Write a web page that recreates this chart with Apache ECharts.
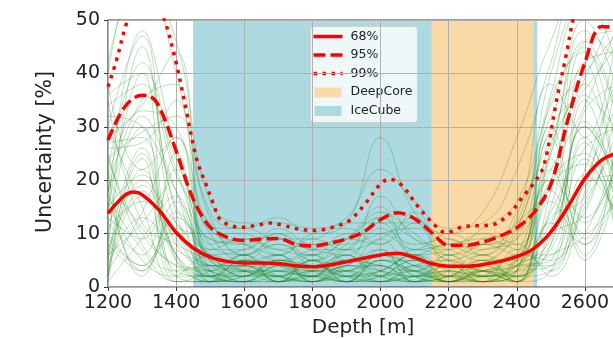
<!DOCTYPE html>
<html>
<head>
<meta charset="utf-8">
<script src="https://cdn.jsdelivr.net/npm/echarts@6/dist/echarts.min.js"></script>
<style>
  html, body { margin: 0; padding: 0; background: #ffffff; }
  #chart { width: 613px; height: 339px; }
</style>
</head>
<body>
<div id="chart"></div>
<script>
// Depth nodes shared by every ensemble run (m)
const depthNodes = [1200, 1300, 1400, 1500, 1600, 1700, 1800, 1900, 2000, 2100, 2200, 2300, 2400, 2500, 2600, 2700];

// Individual uncertainty curves (%), one row per run, sampled at depthNodes
const ensembleRuns = [
  [3, 22, 6, 2, 5, 1, 3, 6, 2, 4, 1, 3, 5, 12, 30, 18],
  [10, 4, 14, 3, 1, 4, 2, 1, 5, 3, 6, 2, 1, 18, 8, 26],
  [18, 30, 2, 6, 3, 2, 5, 3, 1, 2, 4, 1, 7, 3, 22, 40],
  [6, 12, 20, 1, 4, 6, 1, 4, 7, 1, 2, 5, 2, 8, 35, 12],
  [25, 8, 3, 4, 2, 3, 4, 2, 3, 6, 1, 3, 4, 22, 5, 20],
  [2, 17, 10, 2, 6, 1, 2, 5, 4, 2, 3, 2, 6, 5, 15, 30],
  [14, 40, 5, 3, 1, 5, 3, 1, 6, 4, 2, 6, 1, 10, 28, 6],
  [8, 3, 16, 5, 3, 2, 1, 3, 2, 7, 5, 1, 3, 30, 12, 24],
  [30, 15, 1, 1, 2, 4, 6, 2, 1, 3, 1, 4, 8, 2, 18, 45],
  [5, 26, 8, 4, 5, 3, 2, 7, 3, 1, 3, 2, 4, 15, 42, 16],
  [12, 6, 25, 2, 1, 2, 3, 4, 9, 2, 1, 3, 2, 6, 10, 28],
  [20, 11, 4, 3, 4, 1, 5, 1, 2, 5, 2, 1, 5, 20, 25, 9],
  [1, 20, 12, 6, 2, 5, 1, 3, 4, 1, 6, 2, 3, 4, 20, 35],
  [16, 5, 2, 2, 3, 2, 4, 2, 5, 3, 1, 5, 1, 12, 8, 22],
  [9, 32, 18, 1, 5, 4, 2, 6, 1, 2, 3, 1, 6, 25, 38, 14],
  [4, 13, 7, 4, 1, 1, 3, 1, 3, 6, 2, 3, 2, 3, 16, 27],
  [22, 2, 11, 3, 2, 6, 1, 4, 2, 1, 4, 2, 4, 9, 30, 19],
  [7, 18, 3, 2, 4, 2, 5, 2, 6, 4, 1, 4, 1, 16, 6, 33],
  [13, 9, 22, 5, 3, 3, 2, 3, 1, 2, 2, 1, 3, 7, 24, 11],
  [2, 25, 6, 1, 1, 4, 3, 5, 4, 3, 5, 3, 5, 20, 13, 25],
  [17, 7, 1, 3, 6, 1, 2, 1, 2, 5, 1, 2, 2, 11, 33, 38],
  [11, 16, 9, 2, 2, 5, 4, 3, 7, 1, 3, 6, 4, 4, 19, 21],
  [6, 45, 14, 4, 4, 2, 1, 4, 3, 2, 2, 1, 3, 28, 10, 17],
  [24, 10, 4, 1, 3, 3, 3, 2, 1, 4, 4, 3, 1, 14, 26, 30],
  [3, 14, 28, 3, 1, 1, 6, 1, 5, 3, 1, 2, 6, 6, 21, 13],
  [15, 21, 5, 2, 5, 4, 2, 6, 2, 1, 2, 4, 2, 18, 45, 23],
  [9, 4, 13, 6, 2, 2, 1, 2, 3, 6, 3, 1, 4, 10, 14, 36],
  [27, 28, 2, 1, 3, 6, 3, 3, 6, 2, 1, 3, 1, 3, 27, 15],
  [1, 9, 17, 4, 4, 1, 5, 1, 1, 4, 5, 2, 3, 24, 9, 26],
  [12, 19, 6, 2, 1, 3, 2, 4, 4, 1, 2, 5, 5, 8, 31, 20],
  [19, 3, 10, 3, 6, 2, 1, 2, 2, 3, 1, 1, 2, 13, 17, 42],
  [5, 24, 1, 1, 2, 5, 4, 5, 3, 2, 4, 3, 1, 19, 23, 8],
  [35, 12, 8, 5, 3, 1, 2, 1, 5, 5, 2, 2, 4, 5, 36, 29],
  [28, 36, 24, 8, 6, 9, 4, 7, 12, 6, 8, 7, 11, 32, 40, 48],
  [20, 33, 30, 11, 8, 5, 7, 9, 8, 12, 4, 8, 6, 26, 46, 32],
  [32, 30, 18, 7, 9, 7, 8, 5, 13, 9, 7, 5, 10, 22, 34, 50],
  [14, 48, 26, 10, 5, 8, 6, 10, 10, 7, 8, 9, 7, 35, 44, 30],
  [26, 27, 35, 6, 7, 10, 5, 8, 14, 10, 6, 8, 12, 20, 48, 42],
  [34, 38, 15, 9, 8, 6, 9, 7, 9, 13, 5, 7, 9, 30, 37, 46],
  [22, 42, 21, 12, 6, 9, 7, 6, 11, 8, 9, 6, 13, 38, 28, 52],
  [38, 22, 28, 8, 9, 7, 6, 9, 15, 6, 7, 10, 8, 25, 50, 36],
  [18, 35, 38, 7, 7, 11, 8, 8, 10, 11, 8, 6, 14, 28, 42, 44],
  [30, 47, 12, 10, 10, 6, 10, 11, 8, 14, 6, 9, 11, 40, 54, 40],
  [24, 29, 32, 13, 6, 8, 5, 9, 13, 7, 10, 8, 9, 27, 39, 54],
  [36, 40, 22, 9, 8, 10, 7, 7, 17, 9, 7, 11, 16, 34, 46, 48],
  [28, 34, 44, 11, 11, 9, 9, 12, 12, 12, 9, 8, 12, 36, 52, 50],
  [42, 58, 46, 16, 12, 12, 11, 13, 22, 16, 11, 12, 22, 42, 60, 58],
  [40, 62, 40, 14, 11, 13, 10, 12, 28, 14, 10, 14, 28, 46, 58, 56]
];

// Percentile envelopes: [depth (m), uncertainty (%)]
const band68 = [
  [1200, 13.8], [1250, 17.2], [1275, 17.8], [1300, 17.3], [1350, 14.4], [1400, 10.2],
  [1450, 7.3], [1500, 5.6], [1550, 4.8], [1600, 4.5], [1650, 4.5], [1700, 4.4],
  [1750, 4.0], [1800, 3.8], [1850, 4.1], [1900, 4.7], [1950, 5.4], [2000, 6.0],
  [2050, 6.3], [2100, 5.5], [2150, 4.4], [2200, 3.9], [2250, 3.9], [2300, 4.2],
  [2350, 4.8], [2400, 5.7], [2450, 7.2], [2500, 10.3], [2550, 15.0], [2600, 20.3],
  [2650, 23.8], [2700, 25.2]
];
const band95 = [
  [1200, 27.5], [1250, 33.8], [1300, 35.9], [1320, 35.8], [1350, 33.8], [1400, 25.5],
  [1450, 16.5], [1500, 11.2], [1550, 9.3], [1600, 8.7], [1650, 9.0], [1700, 9.1],
  [1750, 8.0], [1800, 7.7], [1850, 8.2], [1900, 9.0], [1950, 10.3], [2000, 12.6],
  [2050, 13.9], [2100, 12.8], [2150, 10.2], [2200, 7.8], [2250, 7.8], [2300, 8.4],
  [2350, 9.5], [2400, 11.1], [2450, 13.9], [2500, 19.2], [2550, 31.3], [2600, 42.0],
  [2650, 48.8], [2700, 48.5]
];
const band99 = [
  [1200, 37.5], [1225, 42.5], [1250, 48.5], [1275, 53], [1300, 56], [1330, 55],
  [1366, 50], [1400, 42], [1430, 33], [1460, 24], [1489, 19], [1510, 15.5],
  [1530, 12.6], [1587, 11.2], [1640, 11.6], [1675, 12.0], [1710, 11.6], [1763, 10.8],
  [1810, 10.6], [1860, 11.2], [1910, 12.5], [1960, 16.0], [2000, 19.3], [2025, 20.2],
  [2060, 19.2], [2106, 15.4], [2150, 12.2], [2192, 10.2], [2243, 11.3], [2290, 11.5],
  [2331, 11.7], [2380, 13.8], [2414, 16.6], [2453, 19.7], [2480, 22.8], [2517, 35],
  [2546, 43.7], [2565, 50], [2600, 58], [2700, 60]
];

// Detector regions along depth (m)
const iceCubeSpan = [1450, 2460];
const deepCoreSpan = [2150, 2450];

// Axis ticks
const xTicks = { min: 1200, max: 2800, step: 200 };
const yTicks = { min: 0, max: 50, step: 10 };

const legendNames = ['68%', '95%', '99%', 'DeepCore', 'IceCube'];

const RED = '#ff0000';
const BLUE_REGION = '#acdae0';
const ORANGE_REGION = '#fbd9a6';
const FONT = 'DejaVu Sans';

const runSeries = ensembleRuns.map(function (row, k) {
  return {
    type: 'line',
    name: 'run' + k,
    data: row.map(function (v, i) { return [depthNodes[i], v]; }),
    smooth: 0.45,
    showSymbol: false,
    symbol: 'none',
    silent: true,
    z: 1,
    lineStyle: { color: 'rgba(0,128,0,0.25)', width: 1 }
  };
});

function bandSeries(name, data, dash, width) {
  return {
    type: 'line',
    name: name,
    data: data,
    smooth: 0.35,
    symbol: 'none',
    silent: true,
    z: 5,
    lineStyle: { color: RED, width: width, type: dash, cap: 'butt' }
  };
}

function spanSeries(name, span, color) {
  return {
    type: 'line', name: name, data: [], silent: true, z: -2,
    markArea: {
      silent: true, z: -2,
      itemStyle: { color: color, opacity: 1 },
      data: [[{ xAxis: span[0] }, { xAxis: span[1] }]]
    }
  };
}

const option = {
  animation: false,
  backgroundColor: '#ffffff',
  grid: {
    left: 108, top: 20, right: -40, bottom: 52,
    outerBoundsMode: 'none', containLabel: false,
    show: true, borderColor: '#3a3a3a', borderWidth: 1.2, backgroundColor: 'transparent'
  },
  xAxis: {
    type: 'value', min: xTicks.min, max: xTicks.max, interval: xTicks.step, z: 0,
    axisLine: { show: false },
    axisTick: { show: true, inside: false, length: 4, lineStyle: { color: '#3a3a3a', width: 1 } },
    axisLabel: { fontFamily: FONT, fontSize: 19, color: '#222', margin: 7,
      formatter: function (v) { return String(v); } },
    splitLine: { show: true, lineStyle: { color: '#b0b0b0', width: 1 } }
  },
  yAxis: {
    type: 'value', min: yTicks.min, max: yTicks.max, interval: yTicks.step, z: 0,
    axisLine: { show: false },
    axisTick: { show: true, inside: false, length: 4, lineStyle: { color: '#3a3a3a', width: 1 } },
    axisLabel: { fontFamily: FONT, fontSize: 19, color: '#222', margin: 8,
      formatter: function (v) { return String(v); } },
    splitLine: { show: true, lineStyle: { color: '#b0b0b0', width: 1 } }
  },
  series: [
    spanSeries(legendNames[4], iceCubeSpan, BLUE_REGION),
    spanSeries(legendNames[3], deepCoreSpan, ORANGE_REGION)
  ].concat(runSeries).concat([
    bandSeries(legendNames[0], band68, 'solid', 3.5),
    bandSeries(legendNames[1], band95, [12, 5], 3.5),
    bandSeries(legendNames[2], band99, [3.5, 5.5], 3.5)
  ]),
  graphic: [
    {
      type: 'group', left: 310, top: 26, z: 100,
      children: [
        { type: 'rect', shape: { x: 0, y: 0, width: 107, height: 96, r: 3 },
          style: { fill: 'rgba(255,255,255,0.8)', stroke: '#d0d0d0', lineWidth: 1 } },
        { type: 'line', shape: { x1: 3, y1: 10, x2: 32, y2: 10 },
          style: { stroke: RED, lineWidth: 3.5 } },
        { type: 'line', shape: { x1: 3, y1: 28.5, x2: 32, y2: 28.5 },
          style: { stroke: RED, lineWidth: 3.5, lineDash: [12, 5] } },
        { type: 'line', shape: { x1: 3, y1: 47, x2: 32, y2: 47 },
          style: { stroke: RED, lineWidth: 3.5, lineDash: [3.5, 5.5] } },
        { type: 'rect', shape: { x: 4, y: 61, width: 27, height: 10 },
          style: { fill: ORANGE_REGION } },
        { type: 'rect', shape: { x: 4, y: 79.5, width: 27, height: 10 },
          style: { fill: BLUE_REGION } },
        { type: 'text', x: 40, y: 10, style: { text: legendNames[0], font: '12.5px "DejaVu Sans"', fill: '#222', verticalAlign: 'middle' } },
        { type: 'text', x: 40, y: 28.5, style: { text: legendNames[1], font: '12.5px "DejaVu Sans"', fill: '#222', verticalAlign: 'middle' } },
        { type: 'text', x: 40, y: 47, style: { text: legendNames[2], font: '12.5px "DejaVu Sans"', fill: '#222', verticalAlign: 'middle' } },
        { type: 'text', x: 40, y: 65.5, style: { text: legendNames[3], font: '12.5px "DejaVu Sans"', fill: '#222', verticalAlign: 'middle' } },
        { type: 'text', x: 40, y: 84, style: { text: legendNames[4], font: '12.5px "DejaVu Sans"', fill: '#222', verticalAlign: 'middle' } }
      ]
    },
    {
      type: 'text', x: 363, y: 327.5, z: 100,
      style: { text: 'Depth [m]', font: '20px "DejaVu Sans"', fill: '#222', align: 'center', verticalAlign: 'middle' }
    },
    {
      type: 'text', x: 45.5, y: 152, rotation: Math.PI / 2, z: 100,
      style: { text: 'Uncertainty [%]', font: '20.5px "DejaVu Sans"', fill: '#222', align: 'center', verticalAlign: 'middle' }
    }
  ]
};

const chart = echarts.init(document.getElementById('chart'), null, { renderer: 'canvas' });
chart.setOption(option);
</script>
</body>
</html>
